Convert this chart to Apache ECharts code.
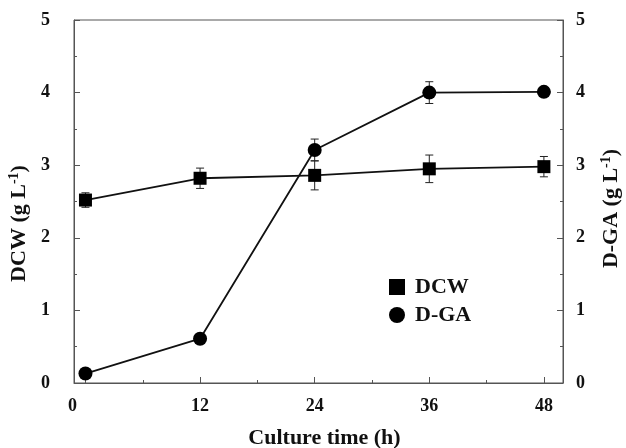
<!DOCTYPE html>
<html>
<head>
<meta charset="utf-8">
<script src="https://cdn.jsdelivr.net/npm/echarts@6/dist/echarts.min.js"></script>
<style>
  html, body { margin: 0; padding: 0; background: #fff; }
  #main { width: 626px; height: 448px; }
</style>
</head>
<body>
<div id="main"></div>
<script>
// culture time (h)
var times = [0, 12, 24, 36, 48]
// DCW (g/L) and its error
var dcw = [2.52, 2.82, 2.86, 2.95, 2.98]
var dcwErr = [0.1, 0.14, 0.2, 0.19, 0.14]
// D-GA (g/L) and its error
var dga = [0.13, 0.61, 3.21, 4.0, 4.01]
var dgaErr = [0.02, 0.03, 0.15, 0.15, 0.03]
var xTicks = [0, 12, 24, 36, 48]
var xMinorTicks = [6, 18, 30, 42]

var font = 'Liberation Serif'
var axisColor = '#555'

function pairs(ys) {
  return times.map(function (t, i) { return [t, ys[i]] })
}

function errData(ys, errs) {
  return times.map(function (t, i) { return [t, ys[i] - errs[i], ys[i] + errs[i]] })
}

// vertical error bar with caps
function renderErr(params, api) {
  var lo = api.coord([api.value(0), api.value(1)])
  var hi = api.coord([api.value(0), api.value(2)])
  var w = 4
  var style = { stroke: '#222', lineWidth: 1 }
  return {
    type: 'group',
    children: [
      { type: 'line', shape: { x1: lo[0], y1: lo[1], x2: hi[0], y2: hi[1] }, style: style },
      { type: 'line', shape: { x1: lo[0] - w, y1: lo[1], x2: lo[0] + w, y2: lo[1] }, style: style },
      { type: 'line', shape: { x1: hi[0] - w, y1: hi[1], x2: hi[0] + w, y2: hi[1] }, style: style }
    ]
  }
}

var chart = echarts.init(document.getElementById('main'))

var labelStyle = { fontFamily: font, fontWeight: 'bold', fontSize: 18, color: '#111' }
var nameStyle = { fontFamily: font, fontWeight: 'bold', fontSize: 22, color: '#111' }
var nameRich = {
  sup: { fontFamily: font, fontWeight: 'bold', fontSize: 14, color: '#111', verticalAlign: 'top', padding: [0, 0, 10, 0] }
}

chart.setOption({
  animation: false,
  grid: {
    left: 74, right: 63, top: 20, bottom: 65,
    outerBoundsMode: 'none', containLabel: false,
    show: true, borderColor: axisColor, borderWidth: 1
  },
  legend: {
    orient: 'vertical',
    left: 389, top: 276, padding: 0,
    itemWidth: 16, itemHeight: 16, itemGap: 6,
    textStyle: { fontFamily: font, fontWeight: 'bold', fontSize: 22, color: '#111', padding: [0, 0, 0, 5] },
    data: [
      { name: 'DCW', icon: 'rect' },
      { name: 'D-GA', icon: 'circle' }
    ]
  },
  xAxis: [{
    type: 'value', min: -1.2, max: 50,
    name: 'Culture time (h)', nameLocation: 'middle', nameGap: 44,
    nameTextStyle: Object.assign({ padding: [0, 0, 0, 12] }, nameStyle),
    axisLine: { show: true, onZero: false, lineStyle: { color: axisColor } },
    axisTick: { show: true, inside: true, length: 6, customValues: xTicks, lineStyle: { color: axisColor } },
    axisLabel: Object.assign({
      customValues: xTicks, margin: 14,
      formatter: function (v) { return v === 0 ? '{z|0}' : String(v) },
      rich: { z: Object.assign({ padding: [0, 26, 0, 0] }, labelStyle) }
    }, labelStyle),
    splitLine: { show: false }
  }, {
    type: 'value', min: -1.2, max: 50, position: 'bottom',
    axisLine: { show: false, onZero: false },
    axisTick: { show: true, inside: true, length: 3, customValues: xMinorTicks, lineStyle: { color: axisColor } },
    axisLabel: { show: false },
    splitLine: { show: false }
  }],
  yAxis: [{
    type: 'value', min: 0, max: 5, interval: 1, position: 'left',
    name: 'DCW (g L{sup|-1})', nameLocation: 'middle', nameGap: 41, nameRotate: 90,
    nameTextStyle: Object.assign({ rich: nameRich, padding: [0, 44, 0, 0] }, nameStyle),
    axisLine: { show: true, onZero: false, lineStyle: { color: axisColor } },
    axisTick: { show: true, inside: true, length: 6, lineStyle: { color: axisColor } },
    minorTick: { show: true, splitNumber: 2, length: 3, lineStyle: { color: axisColor } },
    axisLabel: Object.assign({ margin: 24 }, labelStyle),
    splitLine: { show: false }
  }, {
    type: 'value', min: 0, max: 5, interval: 1, position: 'right',
    name: 'D-GA (g L{sup|-1})', nameLocation: 'middle', nameGap: 36, nameRotate: 90,
    nameTextStyle: Object.assign({ rich: nameRich, padding: [0, 14, 0, 0] }, nameStyle),
    axisLine: { show: true, onZero: false, lineStyle: { color: axisColor } },
    axisTick: { show: true, inside: true, length: 6, lineStyle: { color: axisColor } },
    minorTick: { show: true, splitNumber: 2, length: 3, lineStyle: { color: axisColor } },
    axisLabel: Object.assign({ margin: 13 }, labelStyle),
    splitLine: { show: false }
  }],
  series: [
    {
      name: 'dcwErr', type: 'custom', yAxisIndex: 0,
      renderItem: renderErr, data: errData(dcw, dcwErr), z: 1
    },
    {
      name: 'dgaErr', type: 'custom', yAxisIndex: 1,
      renderItem: renderErr, data: errData(dga, dgaErr), z: 1
    },
    {
      name: 'DCW', type: 'line', yAxisIndex: 0,
      data: pairs(dcw),
      symbol: 'rect', symbolSize: 13,
      itemStyle: { color: '#000' },
      lineStyle: { color: '#111', width: 1.8 },
      z: 3
    },
    {
      name: 'D-GA', type: 'line', yAxisIndex: 1,
      data: pairs(dga),
      symbol: 'circle', symbolSize: 14,
      itemStyle: { color: '#000' },
      lineStyle: { color: '#111', width: 1.8 },
      z: 3
    }
  ]
})
</script>
</body>
</html>
